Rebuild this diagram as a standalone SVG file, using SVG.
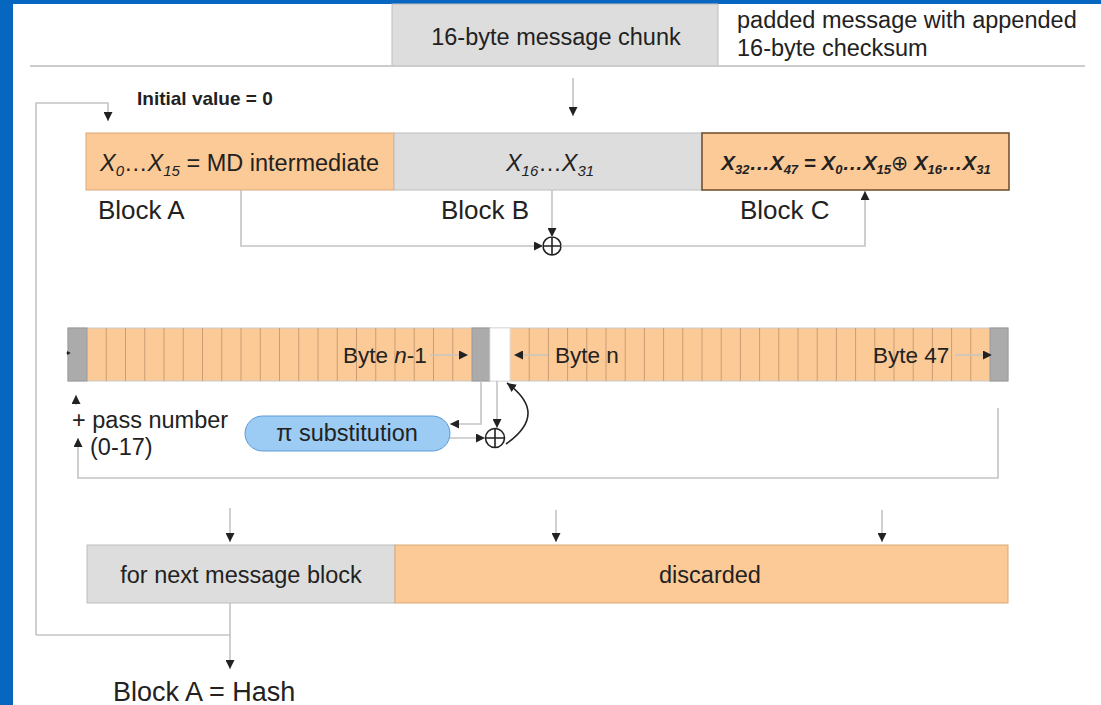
<svg xmlns="http://www.w3.org/2000/svg" width="1101" height="705" viewBox="0 0 1101 705">
<defs>
<style>
.t{font-family:"Liberation Sans",Arial,sans-serif;fill:#222;}
.f23{font-size:23.5px;}
.f26{font-size:26px;}
.conn{fill:none;stroke:#C4C4C4;stroke-width:1.6;}
.or{fill:#FCCA96;stroke:#D9A878;stroke-width:1;}
.gr{fill:#DDDDDD;stroke:#BDBDBD;stroke-width:1;}
.dk{fill:#ABABAB;stroke:#9A9A9A;stroke-width:1;}
.xor{fill:none;stroke:#222;stroke-width:1.6;}
</style>
<marker id="ah" viewBox="0 0 10 10" refX="10" refY="5" markerWidth="9" markerHeight="9" orient="auto" markerUnits="userSpaceOnUse"><path d="M0,0 L10,5 L0,10 z" fill="#222"/></marker>
<marker id="ahs" viewBox="0 0 10 10" refX="10" refY="5" markerWidth="4" markerHeight="4" orient="auto" markerUnits="userSpaceOnUse"><path d="M0,0 L10,5 L0,10 z" fill="#222"/></marker>
</defs>
<rect x="0" y="0" width="1101" height="705" fill="#FFFFFF"/>
<rect x="0" y="0" width="1101" height="4" fill="#0766C0"/>
<rect x="0" y="0" width="13" height="705" fill="#0766C0"/>

<g id="header">
<rect x="392" y="4" width="326" height="62" class="gr"/>
<text x="556" y="45" class="t f23" text-anchor="middle">16-byte message chunk</text>
<text x="737" y="28" class="t f23">padded message with appended</text>
<text x="737" y="56" class="t f23">16-byte checksum</text>
<line x1="30" y1="66" x2="1085" y2="66" stroke="#CCCCCC" stroke-width="2"/>
</g>

<text x="137" y="105" class="t" font-size="19" font-weight="bold">Initial value = 0</text>

<g id="blockA">
<rect x="86" y="133" width="308" height="57" class="or"/>
<text x="100" y="171" class="t f23"><tspan font-style="italic">X</tspan><tspan font-style="italic" font-size="15" dy="5">0</tspan><tspan dy="-5">…</tspan><tspan font-style="italic">X</tspan><tspan font-style="italic" font-size="15" dy="5">15</tspan><tspan dy="-5"> = MD intermediate</tspan></text>
<text x="98" y="219" class="t f26">Block A</text>
</g>
<g id="blockB">
<rect x="394" y="133" width="308" height="57" class="gr"/>
<text x="550" y="171" class="t f23" text-anchor="middle"><tspan font-style="italic">X</tspan><tspan font-style="italic" font-size="15" dy="5">16</tspan><tspan dy="-5">…</tspan><tspan font-style="italic">X</tspan><tspan font-style="italic" font-size="15" dy="5">31</tspan></text>
<text x="441" y="219" class="t f26">Block B</text>
</g>
<g id="blockC">
<rect x="702" y="133" width="307" height="57" fill="#FCCA96" stroke="#6E4A2A" stroke-width="1.5"/>
<text x="856" y="170" class="t" font-size="20.5" font-weight="bold" font-style="italic" text-anchor="middle">X<tspan font-size="13" dy="4">32</tspan><tspan dy="-4">…X</tspan><tspan font-size="13" dy="4">47</tspan><tspan dy="-4"> = X</tspan><tspan font-size="13" dy="4">0</tspan><tspan dy="-4">…X</tspan><tspan font-size="13" dy="4">15</tspan><tspan dy="-4" font-family="'DejaVu Sans',sans-serif" font-weight="normal" font-style="normal">⊕</tspan><tspan> X</tspan><tspan font-size="13" dy="4">16</tspan><tspan dy="-4">…X</tspan><tspan font-size="13" dy="4">31</tspan></text>
<text x="740" y="219" class="t f26">Block C</text>
</g>

<g id="xor1">
<circle cx="552" cy="246" r="9" class="xor"/>
<path d="M543,246 H561 M552,237 V255" class="xor"/>
</g>

<g id="byteRow">
<rect x="68" y="328" width="940" height="53" fill="#FCCA96" stroke="#C9C9C9" stroke-width="1"/>
<path d="M106.25,328V381 M125.5,328V381 M144.75,328V381 M164,328V381 M183.25,328V381 M202.5,328V381 M221.75,328V381 M241,328V381 M260.25,328V381 M279.5,328V381 M298.75,328V381 M318,328V381 M337.25,328V381 M356.5,328V381 M375.75,328V381 M395,328V381 M414.25,328V381 M433.5,328V381 M452.75,328V381 M529.2,328V381 M548.4,328V381 M567.6,328V381 M586.8,328V381 M606,328V381 M625.2,328V381 M644.4,328V381 M663.6,328V381 M682.8,328V381 M702,328V381 M721.2,328V381 M740.4,328V381 M759.6,328V381 M778.8,328V381 M798,328V381 M817.2,328V381 M836.4,328V381 M855.6,328V381 M874.8,328V381 M894,328V381 M913.2,328V381 M932.4,328V381 M951.6,328V381 M970.8,328V381" stroke="#C99E74" stroke-width="1" fill="none"/>
<rect x="68" y="328" width="19" height="53" class="dk"/>
<rect x="472" y="328" width="18" height="53" class="dk"/>
<rect x="490" y="328" width="20" height="53" fill="#FFFFFF" stroke="#E0E0E0" stroke-width="1"/>
<rect x="990" y="328" width="18" height="53" class="dk"/>
<text x="343" y="363" class="t" font-size="22.5">Byte <tspan font-style="italic">n</tspan>-1</text>
<text x="555" y="363" class="t" font-size="22.5">Byte n</text>
<text x="873" y="363" class="t" font-size="22.5">Byte 47</text>
</g>

<g id="piSub">
<rect x="245" y="416" width="205" height="35" rx="17.5" ry="17.5" fill="#9CCBF3" stroke="#5B9BD5" stroke-width="1"/>
<text x="347" y="441" class="t f23" text-anchor="middle">π substitution</text>
</g>

<g id="xor2">
<circle cx="495" cy="438" r="9.5" class="xor"/>
<path d="M485.5,438 H504.5 M495,428.5 V447.5" class="xor"/>
</g>

<g id="labels">
<text x="72" y="428" class="t f23">+ pass number</text>
<text x="90" y="455" class="t f23">(0-17)</text>
</g>

<g id="bottomRow">
<rect x="87" y="545" width="308" height="58" class="gr"/>
<text x="241" y="583" class="t f23" text-anchor="middle">for next message block</text>
<rect x="395" y="545" width="613" height="58" fill="#FCCA96" stroke="#D9A878" stroke-width="1"/>
<text x="710" y="583" class="t f23" text-anchor="middle">discarded</text>
</g>

<text x="113" y="701" class="t" font-size="27">Block A = Hash</text>

<g id="connectors">
<path d="M36,635 V103 H108 V121" class="conn" marker-end="url(#ah)"/>
<path d="M573,78 V116" class="conn" marker-end="url(#ah)"/>
<path d="M241,190 V246 H543" class="conn" marker-end="url(#ah)"/>
<path d="M552,190 V237" class="conn" marker-end="url(#ah)"/>
<path d="M561,246 H865 V191" class="conn" marker-end="url(#ah)"/>
<path d="M430,355 H468" class="conn" marker-end="url(#ah)"/>
<path d="M548,355 H514" class="conn" marker-end="url(#ah)"/>
<path d="M955,355 H992" class="conn" marker-end="url(#ah)"/>
<path d="M66,353 H71" class="conn" stroke-width="1" marker-end="url(#ahs)"/>
<path d="M481,381 V424 H450" class="conn" marker-end="url(#ah)"/>
<path d="M450,438 H485" class="conn" marker-end="url(#ah)"/>
<path d="M497,381 V428" class="conn" marker-end="url(#ah)"/>
<path d="M506,444 C540,420 530,400 507,383" fill="none" stroke="#222" stroke-width="1.6" marker-end="url(#ah)"/>
<path d="M998,408 V478 H78 V438" class="conn" marker-end="url(#ah)"/>
<path d="M76,405 V395" class="conn" marker-end="url(#ah)"/>
<path d="M230,508 V542" class="conn" marker-end="url(#ah)"/>
<path d="M556,510 V542" class="conn" marker-end="url(#ah)"/>
<path d="M882,510 V542" class="conn" marker-end="url(#ah)"/>
<path d="M36,635 H230" class="conn"/>
<path d="M230,603 V669" class="conn" marker-end="url(#ah)"/>
</g>
</svg>
